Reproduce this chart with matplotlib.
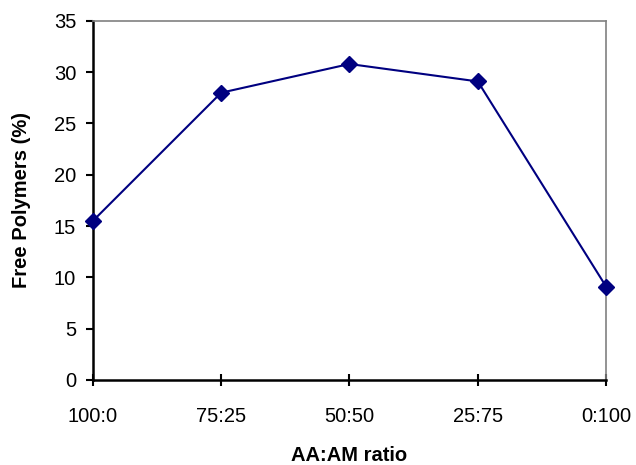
import matplotlib
matplotlib.use("Agg")
import matplotlib.pyplot as plt

ratios = ["100:0", "75:25", "50:50", "25:75", "0:100"]
free_polymers = [15.5, 28.0, 30.8, 29.1, 9.1]
y_ticks = [0, 5, 10, 15, 20, 25, 30, 35]

plt.rcParams["font.family"] = ["Liberation Sans", "DejaVu Sans"]

fig = plt.figure(figsize=(6.36, 4.65), dpi=100)
ax = fig.add_axes([0.146, 0.183, 0.807, 0.772])

x = list(range(len(ratios)))
ax.plot(x, free_polymers, color="#000080", lw=1.5, marker="D", ms=8.5,
        markerfacecolor="#000080", markeredgecolor="#000080", clip_on=False, zorder=3)

ax.set_xlim(0, len(ratios) - 1)
ax.set_ylim(0, 35)
ax.set_yticks(y_ticks)
ax.set_xticks(x)
ax.set_xticklabels(ratios)

ax.tick_params(axis="y", direction="out", length=5, width=1.5, labelsize=14.5, pad=7)
ax.tick_params(axis="x", direction="inout", length=9, width=1.5, labelsize=14.5, pad=15)

for s in ("left", "bottom"):
    ax.spines[s].set_color("black")
    ax.spines[s].set_linewidth(1.8)
for s in ("top", "right"):
    ax.spines[s].set_color("#808080")
    ax.spines[s].set_linewidth(1.2)

ax.set_ylabel("Free Polymers (%)", fontsize=14.5, fontweight="bold")
ax.set_xlabel("AA:AM ratio", fontsize=14.5, fontweight="bold")
ax.yaxis.set_label_coords(-0.12, 0.5)
ax.xaxis.set_label_coords(0.5, -0.185)

fig.savefig("out.png", dpi=100)
